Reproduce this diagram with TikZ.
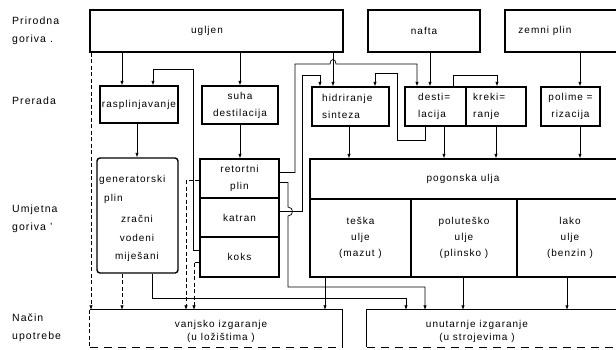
\documentclass[tikz,border=0pt]{standalone}
\usepackage{fontspec}
\setmainfont{Liberation Sans}[LetterSpace=10]
\usetikzlibrary{arrows.meta,calc}
\begin{document}
\begin{tikzpicture}[x=1pt,y=-1pt,
  box/.style={draw, line width=1.4pt, inner sep=0pt},
  txt/.style={font=\fontsize{10}{17}\selectfont, align=center, inner sep=0pt},
  ltxt/.style={txt, align=left, anchor=west},
  side/.style={font=\fontsize{10.5}{18}\selectfont, align=left, anchor=west, inner sep=0pt},
  conn/.style={line width=0.7pt},
  arr/.style={conn, -{Latex[length=4.5pt,width=3.5pt]}},
  dsh/.style={dash pattern=on 4pt off 2.5pt},
  edge/.style={line width=1pt},
]
\useasboundingbox (0,0) rectangle (616,349);
\clip (0,0) rectangle (616,349);

% side labels
\node[side] (l1) at (12,31) {Prirodna\\goriva .};
\node[side] (l2) at (12,101) {Prerada};
\node[side] (l3) at (12,219) {Umjetna\\goriva '};
\node[side] (l4) at (12,328) {Način\\upotrebe};

% natural fuels
\node[box, minimum width=253pt, minimum height=42pt] (ugljen) at (216.5,31) {};
\node[txt] (tugljen) at (207,31) {ugljen};
\node[box, txt, minimum width=112pt, minimum height=42pt] (nafta) at (424,31) {nafta};
\node[box, minimum width=135pt, minimum height=42pt] (zemni) at (572.5,31) {};
\node[txt] (tzemni) at (545,31) {zemni plin};

% processing
\node[box, txt, minimum width=78pt, minimum height=37pt] (rasp) at (139,104.5) {rasplinjavanje};
\node[box, txt, minimum width=76pt, minimum height=38pt] (suha) at (240,105) {suha\\destilacija};
\node[box, minimum width=77pt, minimum height=39pt] (hid) at (350.5,106.5) {};
\node[ltxt] (thid) at (322,106) {hidriranje\\sinteza};
\node[box, minimum width=61pt, minimum height=39pt] (dest) at (435.5,106.5) {};
\node[ltxt] (tdest) at (418,106) {desti=\\lacija};
\node[box, minimum width=60pt, minimum height=39pt] (krek) at (496,106.5) {};
\node[ltxt] (tkrek) at (473,106) {kreki=\\ranje};
\node[box, txt, minimum width=59pt, minimum height=39pt] (polim) at (570.5,106.5) {polime =\\rizacija};

% artificial fuels
\node[box, rounded corners=3pt, minimum width=81pt, minimum height=115pt] (gen) at (137.5,215.5) {};
\node[ltxt] (tgen1) at (99,180) {generatorski};
\node[ltxt] (tgen2) at (104,199) {plin};
\node[txt, font=\fontsize{10}{18.5}\selectfont] (tgen3) at (137,238.5) {zračni\\vodeni\\miješani};
\node[box, txt, minimum width=79pt, minimum height=39pt] (ret) at (239.5,178.5) {retortni\\plin};
\node[box, txt, minimum width=79pt, minimum height=39pt] (kat) at (239.5,217.5) {katran};
\node[box, txt, minimum width=79pt, minimum height=40pt] (koks) at (239.5,257) {koks};
\node[box, minimum width=330pt, minimum height=40pt] (pog) at (475,179) {};
\node[txt] (tpog) at (463,179) {pogonska ulja};
\node[box, txt, font=\fontsize{10}{16}\selectfont, minimum width=101pt, minimum height=78pt] (teska) at (360.5,238) {teška\\ulje\\(mazut )};
\node[box, txt, font=\fontsize{10}{16}\selectfont, minimum width=106pt, minimum height=78pt] (polu) at (464,238) {poluteško\\ulje\\(plinsko )};
\node[box, minimum width=123pt, minimum height=78pt] (lako) at (578.5,238) {};
\node[txt, font=\fontsize{10}{16}\selectfont] (tlako) at (570,238) {lako\\ulje\\(benzin )};

% usage
\node[minimum width=252pt, minimum height=37pt, inner sep=0pt] (vanj) at (216,328.5) {};
\node[txt, font=\fontsize{10}{13}\selectfont] (tvanj) at (221,331) {vanjsko izgaranje\\(u ložištima )};
\node[minimum width=273pt, minimum height=37pt, inner sep=0pt] (unut) at (503.5,328.5) {};
\node[txt, font=\fontsize{10}{13}\selectfont] (tunut) at (477,331) {unutarnje izgaranje\\(u strojevima )};
\draw[edge] (vanj.north west) -- (vanj.north east) -- (vanj.south east);
\draw[edge, dsh] (vanj.north west) -- (vanj.south west);
\draw[conn, dash pattern=on 8pt off 6pt] (vanj.south west) -- (vanj.south east);
\draw[edge] (unut.south west) -- (unut.north west) -- (unut.north east);
\draw[conn, dash pattern=on 8pt off 6pt] (unut.south west) -- (unut.south east);

% connectors: natural -> processing
\draw[arr] (122,0 |- ugljen.south) -- (122,0 |- rasp.north);
\draw[arr] (suha.north |- ugljen.south) -- (suha.north);
\draw[arr] (333,0 |- ugljen.south) -- (333,0 |- hid.north);
\draw[arr] (430,0 |- nafta.south) -- (430,0 |- dest.north);
\draw[arr] (580,0 |- zemni.south) -- (580,0 |- polim.north);
\draw[arr, dsh] (91,0 |- ugljen.south) -- (91,0 |- vanj.north);

% processing -> artificial
\draw[arr] (137,0 |- rasp.south) -- (137,0 |- gen.north);
\draw[arr] (suha.south) -- (suha.south |- ret.north);
\draw[arr] (349,0 |- hid.south) -- (349,0 |- pog.north);
\draw[arr] (444,0 |- dest.south) -- (444,0 |- pog.north);
\draw[arr] (496,0 |- krek.south) -- (496,0 |- pog.north);
\draw[arr] (580,0 |- polim.south) -- (580,0 |- pog.north);

% feedback lines
\draw[arr] ([yshift=7pt]koks.west) -| (193,69) -| (153,0 |- rasp.north);
\draw[arr] ([yshift=6pt]ret.east) -| (295,64) -- (330,64) .. controls (330,58) and (336,58) .. (336,64) -| (417,0 |- dest.north);
\draw[arr] ([yshift=6pt]kat.east) -| (302,75) -| (320,0 |- hid.north);
\draw[arr] (425,0 |- dest.south) |- (397,140) |- (375,73) -- (375,0 |- hid.north);
\draw[arr] (453,0 |- dest.north) |- (497,75) -- (497,0 |- krek.north);

% artificial -> usage
\draw[arr, dsh] (122,0 |- gen.south) -- (122,0 |- vanj.north);
\draw[arr] (152,0 |- gen.south) |- (406,298) -- (406,0 |- unut.north);
\draw[arr, dsh] ([yshift=-2pt]ret.west) -| (186,0 |- vanj.north);
\draw[arr, dsh] ([yshift=-5pt]koks.west) -| (194,0 |- vanj.north);
\draw[arr] ([yshift=-4pt]ret.east) -- (288,182.5) -- (288,207) .. controls (294,207) and (294,216) .. (288,216) -- (288,287) -| (425,0 |- unut.north);
\draw[arr] (325,0 |- teska.south) -- (325,0 |- vanj.north);
\draw[arr] (463,0 |- polu.south) -- (463,0 |- unut.north);
\draw[arr] (567,0 |- lako.south) -- (567,0 |- unut.north);
\end{tikzpicture}
\end{document}
